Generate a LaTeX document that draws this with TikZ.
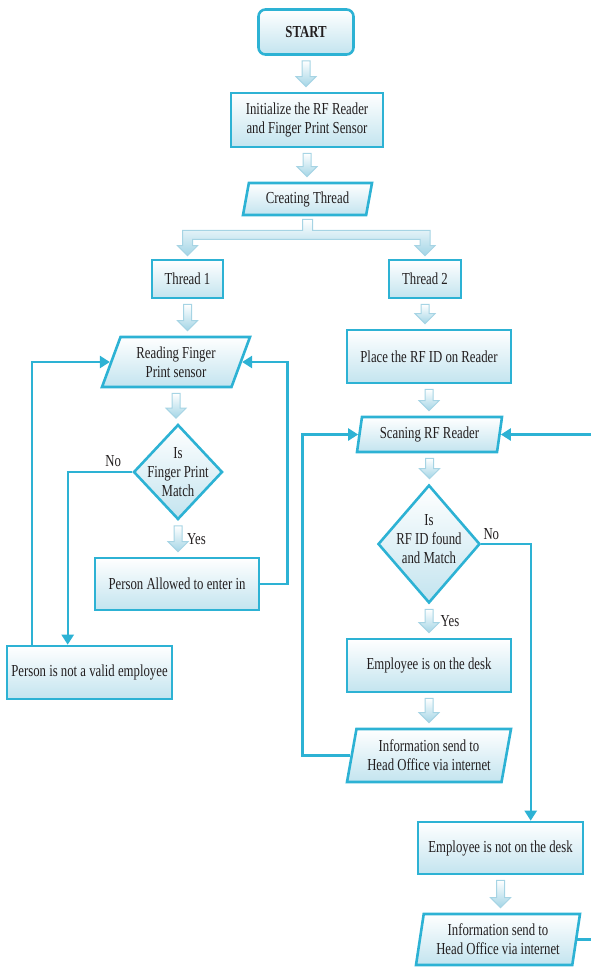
\documentclass[tikz,border=0pt]{standalone}
\usepackage{fontspec}
\setmainfont{Liberation Serif}[FakeStretch=0.76]
\usetikzlibrary{shapes.geometric,arrows.meta,calc}
\definecolor{bord}{HTML}{2DB2D4}
\definecolor{fillb}{HTML}{C3E4EF}
\definecolor{arrline}{HTML}{A6D4E4}
\definecolor{arrfill}{HTML}{A3D5E6}
\definecolor{txt}{HTML}{231F20}
\newcommand\dfont{\fontsize{16.8}{19}\selectfont}
\tikzset{
  box/.style={draw=bord, line width=2.6pt, top color=white, bottom color=fillb,
    font=\dfont, align=center, inner sep=0pt, text=txt},
  rbox/.style={box, rectangle},
  pbox/.style={box, trapezium, trapezium stretches body},
  dbox/.style={box, diamond, inner sep=0pt},
  lbl/.style={font=\dfont, text=txt, align=center, inner sep=0pt},
  harr/.style={draw=arrline, line width=1pt, top color=white, bottom color=arrfill},
  conn/.style={draw=bord, line width=2.4pt, -{Triangle[length=10pt,width=12pt]}},
}
\newcommand\harrow[2]{%
  \path[harr] let \p1=(#1), \p2=(#2) in
    (\x1-4pt,\y1-5pt) -- (\x1+4pt,\y1-5pt) -- (\x1+4pt,\y2+15pt) --
    (\x1+10pt,\y2+15pt) -- (\x1,\y2+5pt) -- (\x1-10pt,\y2+15pt) --
    (\x1-4pt,\y2+15pt) -- cycle;}
\begin{document}
\begin{tikzpicture}[x=1pt,y=-1pt]
\useasboundingbox (0,0) rectangle (591,967);
% nodes
\node[rbox, minimum width=95pt, minimum height=45pt, rounded corners=7pt, font=\dfont\bfseries] (start) at (306,32) {START};
\node[rbox, minimum width=152pt, minimum height=54pt] (init) at (307,120) {Initialize the RF Reader\\and Finger Print Sensor};
\node[pbox, trapezium left angle=69, trapezium right angle=111, minimum width=129pt, minimum height=32pt] (ct) at (307.5,199) {Creating Thread};
\node[rbox, minimum width=71pt, minimum height=38pt] (t1) at (187.5,279) {Thread 1};
\node[rbox, minimum width=72pt, minimum height=38pt] (t2) at (425,279) {Thread 2};
\node[pbox, trapezium left angle=59, trapezium right angle=121, minimum width=148pt, minimum height=50pt] (rd) at (176,362) {Reading Finger\\Print sensor};
\node[dbox, minimum width=89pt, minimum height=95pt, label={[lbl]center:{Is\\Finger Print\\Match}}] (d1) at (178,472) {};
\node[rbox, minimum width=164pt, minimum height=52pt] (pa) at (177,584) {Person Allowed to enter in};
\node[rbox, minimum width=165pt, minimum height=53pt] (pnv) at (89.5,672.5) {Person is not a valid employee};
\node[rbox, minimum width=164pt, minimum height=53pt] (pl) at (429,356.5) {Place the RF ID on Reader};
\node[pbox, trapezium left angle=72, trapezium right angle=108, minimum width=145pt, minimum height=35pt] (sc) at (429.5,434.5) {Scaning RF Reader};
\node[dbox, minimum width=102pt, minimum height=118pt, label={[lbl, yshift=5pt]center:{Is\\RF ID found\\and Match}}] (d2) at (429,544) {};
\node[rbox, minimum width=164pt, minimum height=53pt] (ed) at (429,665.5) {Employee is on the desk};
\node[pbox, trapezium left angle=73, trapezium right angle=107, minimum width=164pt, minimum height=53pt] (i1) at (429,755.5) {Information send to\\Head Office via internet};
\node[rbox, minimum width=165pt, minimum height=52pt] (epn) at (500.5,848) {Employee is not on the desk};
\node[pbox, trapezium left angle=76, trapezium right angle=104, minimum width=164pt, minimum height=51pt] (i2) at (498,939.5) {Information send to\\Head Office via internet};
% hollow arrows
\harrow{start.south}{init.north}
\harrow{init.south}{ct.north}
\harrow{t1.south}{rd.north}
\harrow{rd.south}{d1.north}
\harrow{d1.south}{pa.north}
\harrow{t2.south}{pl.north}
\harrow{pl.south}{sc.north}
\harrow{sc.south}{d2.north}
\harrow{d2.south}{ed.north}
\harrow{ed.south}{i1.north}
\harrow{epn.south}{i2.north}
% branching arrow
\path[harr] let \p1=(ct.south), \p2=(t1.north), \p3=(t2.north) in
  (\x1-5pt,\y1-3pt) -- (\x1+5pt,\y1-3pt) -- (\x1+5pt,\y1-14pt) -- (\x3+5pt,\y1-14pt) --
  (\x3+5pt,\y2+13pt) -- (\x3+10pt,\y2+13pt) -- (\x3,\y2+3pt) -- (\x3-10pt,\y2+13pt) --
  (\x3-5pt,\y2+13pt) -- (\x3-5pt,\y1-23pt) -- (\x2+5pt,\y1-23pt) -- (\x2+5pt,\y2+13pt) --
  (\x2+10pt,\y2+13pt) -- (\x2,\y2+3pt) -- (\x2-10pt,\y2+13pt) -- (\x2-5pt,\y2+13pt) --
  (\x2-5pt,\y1-14pt) -- (\x1-5pt,\y1-14pt) -- cycle;
% connectors
\draw[conn] ([xshift=26pt]pnv.north west) |- (rd.left side);
\draw[conn] (pa.east) -- ++(27,0) |- (rd.right side);
\draw[conn] (d1.west) -| ([xshift=62pt]pnv.north west);
\draw[conn] (d2.east) -| ([xshift=114pt]epn.north west);
\draw[conn] (i1.left side) -- ++(-48,0) |- (sc.left side);
\draw[conn] (i2.right side) -- ++(15.5,0) |- (sc.right side);
% labels
\node[lbl] (no1) at ($(d1.west)+(-19,-11)$) {No};
\node[lbl] (no2) at ($(d2.east)+(10,-10)$) {No};
\node[lbl] (yes1) at ($(d1.south)!0.5!(pa.north)+(19,0)$) {Yes};
\node[lbl] (yes2) at ($(d2.south)!0.5!(ed.north)+(21,0)$) {Yes};
\end{tikzpicture}
\end{document}
